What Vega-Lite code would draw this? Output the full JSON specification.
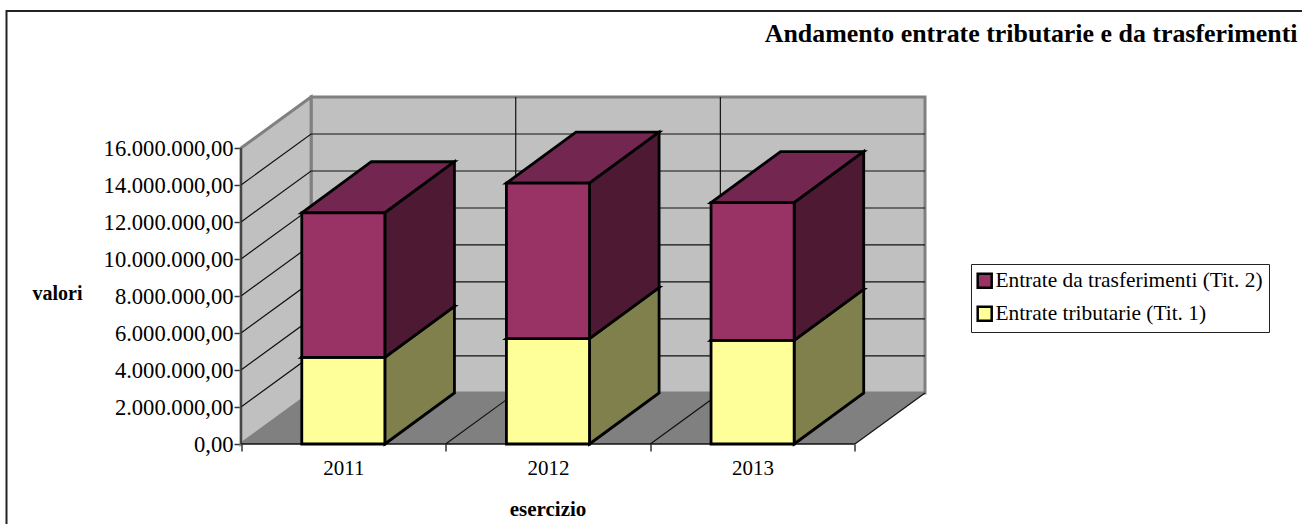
{
  "$schema": "https://vega.github.io/schema/vega-lite/v6.json",
  "width": 1300,
  "height": 520,
  "autosize": "none",
  "padding": {"left": 6.5, "top": 11, "right": 0, "bottom": 0},
  "background": "white",
  "title": {
    "text": "Andamento entrate tributarie e da trasferimenti",
    "anchor": "end", "frame": "group", "dx": -9, "offset": -37,
    "font": "Liberation Serif", "fontSize": 25.9, "fontWeight": "bold", "color": "black"
  },
  "view": {"stroke": "#222222", "strokeWidth": 2, "fill": "white"},
  "config": {
    "font": "Liberation Serif",
    "axis": {"labelFont": "Liberation Serif", "titleFont": "Liberation Serif", "labelColor": "black", "titleColor": "black"},
    "legend": {"labelFont": "Liberation Serif"}
  },
  "datasets": {
    "barre": [
      {"esercizio": 2011, "serie": "Entrate tributarie (Tit. 1)", "da": 0, "a": 4680000},
      {"esercizio": 2011, "serie": "Entrate da trasferimenti (Tit. 2)", "da": 4680000, "a": 12500000},
      {"esercizio": 2012, "serie": "Entrate tributarie (Tit. 1)", "da": 0, "a": 5700000},
      {"esercizio": 2012, "serie": "Entrate da trasferimenti (Tit. 2)", "da": 5700000, "a": 14100000},
      {"esercizio": 2013, "serie": "Entrate tributarie (Tit. 1)", "da": 0, "a": 5600000},
      {"esercizio": 2013, "serie": "Entrate da trasferimenti (Tit. 2)", "da": 5600000, "a": 13050000}
    ],
    "griglia": [
      {"valore": 2000000}, {"valore": 4000000}, {"valore": 6000000}, {"valore": 8000000},
      {"valore": 10000000}, {"valore": 12000000}, {"valore": 14000000}
    ],
    "divisori": [{"categoria": 1}, {"categoria": 2}, {"categoria": 3}],
    "profondita": [{"p": 0}, {"p": 1}]
  },
  "layer": [
    {
      "data": {"values": [{}]},
      "mark": {"type": "rect", "fill": "#C0C0C0", "stroke": "#808080", "strokeWidth": 3},
      "encoding": {
        "x": {
          "datum": 0.3425, "type": "quantitative",
          "scale": {"domain": [0, 3.3425], "range": [234.5, 918.5], "nice": false, "zero": false},
          "axis": {
            "orient": "bottom", "offset": -87, "domain": false, "grid": false,
            "values": [0, 0.5, 1, 1.5, 2, 2.5, 3],
            "labelExpr": "datum.value % 1 == 0 ? '' : '' + (2011 + floor(datum.value))",
            "tickOpacity": {"condition": {"test": "datum.value % 1 == 0", "value": 1}, "value": 0},
            "tickColor": "#333333", "tickSize": 7, "tickWidth": 1.5,
            "labelFontSize": 21, "labelPadding": 6, "labelFlush": false, "labelOverlap": false,
            "title": "esercizio", "titleFontSize": 21, "titleFontWeight": "bold",
            "titleX": 541, "titleY": 54
          }
        },
        "x2": {"datum": 3.3425},
        "y": {
          "datum": 2760000, "type": "quantitative",
          "scale": {"domain": [0, 18760000], "range": [433, 86], "nice": false, "zero": false},
          "axis": {
            "orient": "left", "offset": -234.5, "domain": false, "grid": false,
            "values": [0, 2000000, 4000000, 6000000, 8000000, 10000000, 12000000, 14000000, 16000000],
            "labelExpr": "replace(format(datum.value, ',.0f'), /,/g, '.') + ',00'",
            "tickColor": "#333333", "tickSize": 7, "tickWidth": 1.5,
            "labelFontSize": 22.6, "labelPadding": 1,
            "title": "valori", "titleAngle": 0, "titleFontSize": 20, "titleFontWeight": "bold",
            "titleX": -184, "titleY": 292
          }
        },
        "y2": {"datum": 18760000}
      }
    },
    {
      "data": {"name": "profondita"},
      "transform": [
        {"calculate": "datum.p * 0.3425", "as": "x"},
        {"calculate": "datum.p * 2760000", "as": "y0"},
        {"calculate": "16000000 + datum.p * 2760000", "as": "y1"}
      ],
      "mark": {"type": "area", "fill": "#C0C0C0", "stroke": "#808080", "strokeWidth": 3},
      "encoding": {
        "x": {"field": "x", "type": "quantitative"},
        "y": {"field": "y0", "type": "quantitative"},
        "y2": {"field": "y1"}
      }
    },
    {
      "data": {"name": "profondita"},
      "transform": [
        {"calculate": "datum.p * 2760000", "as": "y"},
        {"calculate": "datum.p * 0.3425", "as": "x0"},
        {"calculate": "3 + datum.p * 0.3425", "as": "x1"}
      ],
      "mark": {"type": "area", "orient": "horizontal", "fill": "#808080"},
      "encoding": {
        "y": {"field": "y", "type": "quantitative"},
        "x": {"field": "x0", "type": "quantitative"},
        "x2": {"field": "x1"}
      }
    },
    {
      "data": {"name": "griglia"},
      "transform": [
        {"calculate": "[0, 0.3425, 3.3425]", "as": "x"},
        {"flatten": ["x"]},
        {"calculate": "datum.valore + (datum.x > 0 ? 2760000 : 0)", "as": "y"}
      ],
      "mark": {"type": "line", "color": "#111111", "strokeWidth": 1.2},
      "encoding": {
        "x": {"field": "x", "type": "quantitative"},
        "y": {"field": "y", "type": "quantitative"},
        "detail": {"field": "valore"}
      }
    },
    {
      "data": {"name": "divisori"},
      "transform": [
        {"filter": "datum.categoria < 3"},
        {"calculate": "datum.categoria + 0.3425", "as": "x"}
      ],
      "mark": {"type": "rule", "color": "#111111", "strokeWidth": 1.2},
      "encoding": {
        "x": {"field": "x", "type": "quantitative"},
        "y": {"datum": 2760000, "type": "quantitative"},
        "y2": {"datum": 18760000}
      }
    },
    {
      "data": {"name": "divisori"},
      "transform": [
        {"calculate": "[0, 1]", "as": "p"},
        {"flatten": ["p"]},
        {"calculate": "datum.categoria + datum.p * 0.3425", "as": "x"},
        {"calculate": "datum.p * 2760000", "as": "y"}
      ],
      "mark": {"type": "line", "color": "#111111", "strokeWidth": 1.2},
      "encoding": {
        "x": {"field": "x", "type": "quantitative"},
        "y": {"field": "y", "type": "quantitative"},
        "detail": {"field": "categoria"}
      }
    },
    {
      "data": {"values": [{}]},
      "mark": {"type": "rule", "color": "#333333", "strokeWidth": 1.5},
      "encoding": {
        "x": {"datum": 0, "type": "quantitative"},
        "y": {"datum": 0, "type": "quantitative"},
        "y2": {"datum": 16000000}
      }
    },
    {
      "data": {"values": [{}]},
      "mark": {"type": "rule", "color": "#111111", "strokeWidth": 1.5},
      "encoding": {
        "x": {"datum": 0, "type": "quantitative"},
        "x2": {"datum": 3},
        "y": {"datum": 0, "type": "quantitative"}
      }
    },
    {
      "data": {"name": "barre"},
      "transform": [
        {"calculate": "datum.serie + ' sopra'", "as": "tinta"},
        {"calculate": "[0, 1]", "as": "p"},
        {"flatten": ["p"]},
        {"calculate": "datum.esercizio - 2011 + 0.5 - 0.203 + datum.p * 0.34", "as": "x0"},
        {"calculate": "datum.esercizio - 2011 + 0.5 + 0.203 + datum.p * 0.34", "as": "x1"},
        {"calculate": "datum.a + datum.p * 2760000", "as": "y"},
        {"calculate": "datum.esercizio + datum.serie", "as": "chiave"}
      ],
      "mark": {"type": "area", "orient": "horizontal", "stroke": "black", "strokeWidth": 2.8, "strokeJoin": "miter"},
      "encoding": {
        "y": {"field": "y", "type": "quantitative"},
        "x": {"field": "x0", "type": "quantitative"},
        "x2": {"field": "x1"},
        "detail": {"field": "chiave"},
        "fill": {"field": "tinta", "type": "nominal"}
      }
    },
    {
      "data": {"name": "barre"},
      "transform": [
        {"calculate": "datum.serie + ' lato'", "as": "tinta"},
        {"calculate": "[0, 1]", "as": "p"},
        {"flatten": ["p"]},
        {"calculate": "datum.esercizio - 2011 + 0.5 + 0.203 + datum.p * 0.34", "as": "x"},
        {"calculate": "datum.da + datum.p * 2760000", "as": "y0"},
        {"calculate": "datum.a + datum.p * 2760000", "as": "y1"},
        {"calculate": "datum.esercizio + datum.serie", "as": "chiave"}
      ],
      "mark": {"type": "area", "stroke": "black", "strokeWidth": 2.8, "strokeJoin": "miter"},
      "encoding": {
        "x": {"field": "x", "type": "quantitative"},
        "y": {"field": "y0", "type": "quantitative"},
        "y2": {"field": "y1"},
        "detail": {"field": "chiave"},
        "fill": {"field": "tinta", "type": "nominal"}
      }
    },
    {
      "data": {"name": "barre"},
      "transform": [
        {"calculate": "datum.esercizio - 2011 + 0.5 - 0.203", "as": "x0"},
        {"calculate": "datum.esercizio - 2011 + 0.5 + 0.203", "as": "x1"}
      ],
      "mark": {"type": "rect", "stroke": "black", "strokeWidth": 2.8},
      "encoding": {
        "x": {"field": "x0", "type": "quantitative"},
        "x2": {"field": "x1"},
        "y": {"field": "da", "type": "quantitative"},
        "y2": {"field": "a"},
        "fill": {
          "field": "serie", "type": "nominal",
          "scale": {
            "domain": [
              "Entrate da trasferimenti (Tit. 2)", "Entrate tributarie (Tit. 1)",
              "Entrate da trasferimenti (Tit. 2) lato", "Entrate tributarie (Tit. 1) lato",
              "Entrate da trasferimenti (Tit. 2) sopra", "Entrate tributarie (Tit. 1) sopra"
            ],
            "range": ["#993366", "#FFFF99", "#4D1933", "#80804D", "#732650", "#BFBF73"]
          },
          "legend": {
            "values": ["Entrate da trasferimenti (Tit. 2)", "Entrate tributarie (Tit. 1)"],
            "title": null, "orient": "none", "legendX": 964.5, "legendY": 253,
            "fillColor": "white", "strokeColor": "#222222", "padding": 6,
            "symbolType": "square", "symbolSize": 196, "symbolStrokeColor": "black", "symbolStrokeWidth": 2.5, "symbolOffset": -3,
            "labelFontSize": 21.4, "labelColor": "black", "rowPadding": 8, "labelOffset": 0, "labelLimit": 400
          }
        }
      }
    }
  ]
}
